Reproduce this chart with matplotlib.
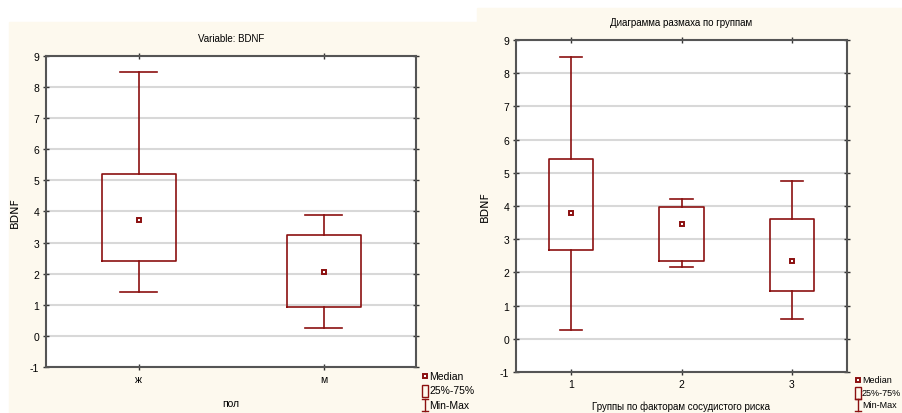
import matplotlib
matplotlib.use("Agg")
import matplotlib.pyplot as plt
from matplotlib.patches import Rectangle

plt.rcParams['font.family'] = ['Liberation Sans', 'DejaVu Sans']
plt.rcParams['axes.unicode_minus'] = False

# left chart: BDNF by sex
sex_labels = ['ж', 'м']
sex_min = [1.41, 0.26]
sex_q1 = [2.41, 0.92]
sex_med = [3.74, 2.04]
sex_q3 = [5.20, 3.25]
sex_max = [8.49, 3.88]

# right chart: BDNF by vascular risk group
grp_labels = ['1', '2', '3']
grp_min = [0.26, 2.16, 0.59]
grp_q1 = [2.67, 2.34, 1.44]
grp_med = [3.80, 3.45, 2.34]
grp_q3 = [5.41, 3.97, 3.62]
grp_max = [8.48, 4.20, 4.75]

yticks = list(range(-1, 10))

W, H = 902, 414
CREAM = '#fdf9ee'
RED = '#8b1010'

fig = plt.figure(figsize=(W / 100, H / 100), dpi=100)
fig.patch.set_facecolor('white')

# two pasted screenshots
fig.patches.append(Rectangle((9 / W, 0), (477 - 9) / W, (414 - 23) / H,
                             transform=fig.transFigure, color=CREAM, zorder=-5))
fig.patches.append(Rectangle((477 / W, 0), (902 - 477) / W, (414 - 9) / H,
                             transform=fig.transFigure, color=CREAM, zorder=-5))


def px_axes(l, t, r, b):
    return fig.add_axes([l / W, (H - b) / H, (r - l) / W, (b - t) / H])


def draw_box(ax, pos, lo, q1, med, q3, hi, labels, xlim):
    stats = []
    for i in range(len(pos)):
        stats.append(dict(med=med[i], q1=q1[i], q3=q3[i],
                          whislo=lo[i], whishi=hi[i], fliers=[]))
    ax.bxp(stats, positions=pos, widths=0.4, capwidths=0.2,
           showfliers=False, manage_ticks=False,
           boxprops=dict(color=RED, linewidth=1.2),
           whiskerprops=dict(color=RED, linewidth=1.2),
           capprops=dict(color=RED, linewidth=1.2),
           medianprops=dict(linewidth=0))
    ax.plot(pos, med, linestyle='none', marker='s', markersize=3.3,
            markerfacecolor='white', markeredgecolor=RED, markeredgewidth=1.4)
    ax.set_xlim(*xlim)
    ax.set_ylim(-1, 9)
    ax.set_yticks(yticks)
    ax.set_xticks(pos)
    ax.set_xticklabels(labels)
    ax.grid(axis='y', color='#d8d8d8', linewidth=1.5)
    ax.set_axisbelow(True)
    for s in ax.spines.values():
        s.set_color('#555555')
        s.set_linewidth(1.5)
    ax.tick_params(axis='both', direction='inout', length=4, width=1,
                   color='#333333', labelsize=7.5, pad=3,
                   right=True, top=True)
    ax.set_ylabel('BDNF', fontsize=8, family=['DejaVu Sans'])


ax1 = px_axes(46, 57, 416, 368)
draw_box(ax1, [0, 1], sex_min, sex_q1, sex_med, sex_q3, sex_max,
         sex_labels, (-0.5, 1.5))
ax1.set_title('Variable: BDNF', fontsize=7, pad=11)
ax1.set_xlabel('пол', fontsize=7.5, labelpad=10)
ax1.yaxis.set_label_coords(-26 / 370, 0.5)

ax2 = px_axes(516, 41, 847, 373)
draw_box(ax2, [1, 2, 3], grp_min, grp_q1, grp_med, grp_q3, grp_max,
         grp_labels, (0.5, 3.5))
ax2.set_title('Диаграмма размаха по группам', fontsize=7, pad=11)
ax2.set_xlabel('Группы по факторам сосудистого риска', fontsize=7, labelpad=8)
ax2.yaxis.set_label_coords(-26 / 331, 0.5)


def legend(x, y0, dy, fs):
    ys = [y0, y0 + dy, y0 + 2 * dy]
    t = fig.transFigure
    fig.lines.append(plt.Line2D([x / W], [(H - ys[0]) / H], transform=t,
                                marker='s', markersize=3.3, markerfacecolor='white',
                                markeredgecolor=RED, markeredgewidth=1.4,
                                linestyle='none'))
    fig.patches.append(Rectangle(((x - 3) / W, (H - ys[1] - 6) / H), 6 / W, 12 / H,
                                 transform=t, fill=False, edgecolor=RED, linewidth=1))
    fig.lines.append(plt.Line2D([x / W, x / W], [(H - ys[2] - 6) / H, (H - ys[2] + 6) / H],
                                transform=t, color=RED, linewidth=1))
    for yy in (ys[2] - 6, ys[2] + 6):
        fig.lines.append(plt.Line2D([(x - 3) / W, (x + 3) / W], [(H - yy) / H] * 2,
                                    transform=t, color=RED, linewidth=1))
    for yy, txt in zip(ys, ['Median', '25%-75%', 'Min-Max']):
        fig.text((x + 4) / W, (H - yy) / H, txt, fontsize=fs, va='center', ha='left')


legend(425, 377, 14.5, 7.5)
legend(858, 381, 12.5, 6.5)

fig.savefig('out.png', dpi=100)
